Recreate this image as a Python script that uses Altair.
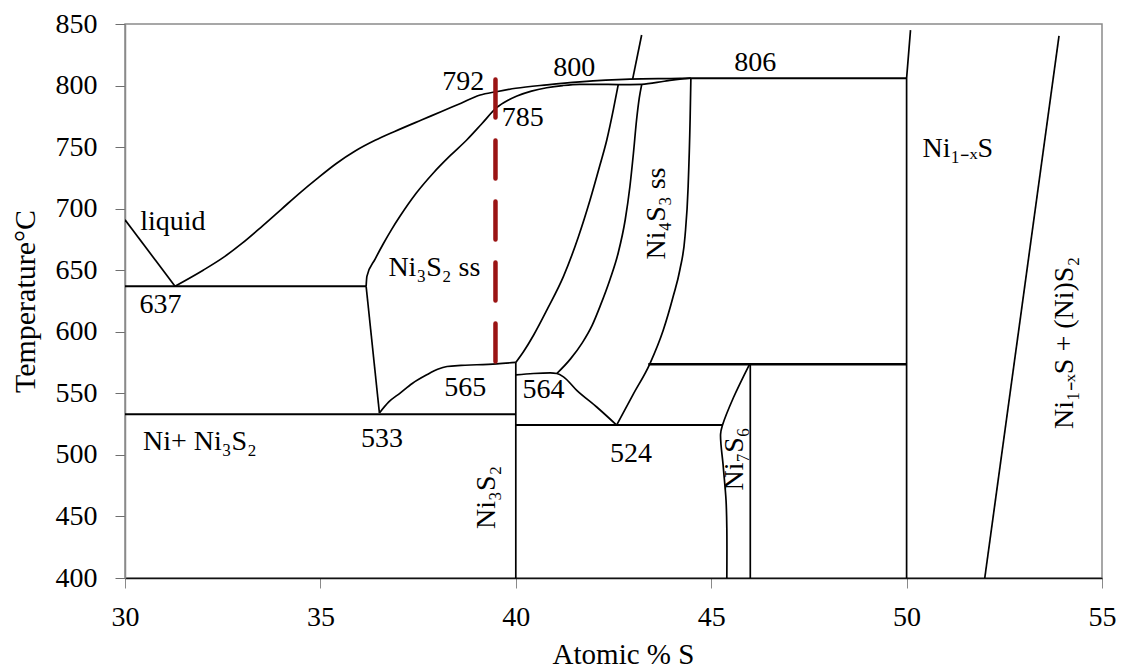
import altair as alt
import pandas as pd

FONT = "Liberation Serif"

# ---------------- phase-boundary lines (Atomic % S, Temperature °C) ----------------
liq_left_x = [30.0, 31.28]
liq_left_y = [691, 637]

liq_x = [31.28, 32.0, 32.5, 33.0, 33.5, 34.0, 34.5, 34.9, 35.4, 35.9, 36.4, 36.9, 37.6,
         38.1, 38.6, 39.09, 39.5, 40.0, 40.8, 41.64, 42.92, 44.2, 44.48]
liq_y = [637, 650, 660, 672, 685.5, 699.5, 713.5, 724, 736.5, 747, 755.5, 762.7, 772.2,
         778.9, 785.7, 792.3, 795, 797.8, 800.6, 803, 805.2, 805.8, 806]

sol_x = [36.17, 36.19, 36.4, 36.61, 36.82, 37.04, 37.45, 37.89, 38.32, 38.75, 39.13, 39.51,
         39.8, 40.03, 40.4, 40.79, 41.2, 41.64, 42.1, 42.62, 43.22, 43.8, 44.2, 44.48]
sol_y = [637, 645, 659, 671.5, 683, 694, 712.5, 729, 743, 756, 769, 782,
         788, 791.5, 795.5, 798.2, 800, 801, 801, 800.8, 801, 803.5, 805.3, 806]

ss_left_x = [36.17, 36.51]
ss_left_y = [637, 534]

c565_x = [36.51, 36.75, 37.04, 37.35, 37.72, 38.0, 38.24, 38.6, 39.0, 39.51, 40.0]
c565_y = [534, 543, 550.2, 558, 565, 569.5, 571.8, 572.7, 573.2, 574, 575.1]

lineA_x = [40.0, 40.2, 40.45, 40.8, 41.22, 41.6, 41.9, 42.15, 42.33, 42.5, 42.62]
lineA_y = [575.1, 584, 597, 618, 645, 677, 707, 735, 756, 781, 800.6]

lineB_x = [41.05, 41.4, 41.7, 41.95, 42.16, 42.41, 42.62, 42.8, 42.92, 43.01, 43.09, 43.16, 43.22]
lineB_y = [566.1, 578, 591, 605, 621, 642.5, 664, 691, 718, 745, 772, 790, 800.6]

c564_x = [40.0, 40.45, 40.88, 41.05, 41.22, 41.56, 42.07, 42.58]
c564_y = [565, 566.1, 566.6, 566.1, 563.4, 552.4, 538.9, 524.2]

lineC_x = [42.58, 43.0, 43.43, 43.77, 44.03, 44.2, 44.33, 44.41, 44.46, 44.48]
lineC_y = [524.2, 549, 574, 601, 629, 650.6, 677.6, 718, 772, 806]

ni3s2_x = [40.0, 40.0]
ni3s2_y = [400, 575.1]

h637_x = [30.0, 36.17]
h637_y = [637, 637]

h533_x = [30.0, 40.0]
h533_y = [533, 533]

h524_x = [40.0, 45.29]
h524_y = [524.2, 524.2]

ni7s6_left_x = [45.98, 45.57, 45.29, 45.24, 45.31, 45.38, 45.4, 45.4]
ni7s6_left_y = [573.6, 546.6, 524.2, 516.9, 489.9, 462.9, 440, 400]

ni7s6_right_x = [46.0, 46.0]
ni7s6_right_y = [400, 573.6]

h573_x = [43.39, 50.0]
h573_y = [573.6, 573.6]

h806_x = [44.48, 50.0]
h806_y = [806, 806]

v50_x = [50.0, 50.0, 50.1]
v50_y = [400, 806, 845]

slant_x = [52.0, 53.9]
slant_y = [400, 840.3]

top_x = [42.99, 43.22]
top_y = [805.2, 841.1]

red_x = [39.48, 39.48]
red_y = [805, 574.5]

# ---------------- annotation texts ----------------
h_text = ["liquid", "637", "792", "785", "800", "806", "Ni\u2081\u208B\u2093S", "Ni\u2083S\u2082 ss",
          "565", "564", "533", "524", "Ni+ Ni\u2083S\u2082"]
h_x = [30.39, 30.37, 38.12, 39.64, 40.96, 45.59, 50.41, 36.74, 38.17, 40.17, 36.04, 42.41, 30.46]
h_y = [682.3, 615.6, 796.5, 766.8, 807.9, 811.9, 741.7, 645.2, 548.0, 546.1, 506.2, 493.9, 504]

v_text = ["Ni\u2083S\u2082", "Ni\u2084S\u2083 ss", "Ni\u2087S\u2086", "Ni\u2081\u208B\u2093S + (Ni)S\u2082"]
v_x = [39.47, 43.82, 45.82, 54.26]
v_y = [439.9, 658.8, 471, 521]

curved = {
    "liq": (liq_x, liq_y),
    "sol": (sol_x, sol_y),
    "c565": (c565_x, c565_y),
    "lineA": (lineA_x, lineA_y),
    "lineB": (lineB_x, lineB_y),
    "c564": (c564_x, c564_y),
    "lineC": (lineC_x, lineC_y),
}
bent = {
    "ni7s6_left": (ni7s6_left_x, ni7s6_left_y),
}
straight = {
    "liq_left": (liq_left_x, liq_left_y),
    "ss_left": (ss_left_x, ss_left_y),
    "ni3s2": (ni3s2_x, ni3s2_y),
    "h637": (h637_x, h637_y),
    "h533": (h533_x, h533_y),
    "h524": (h524_x, h524_y),
    "ni7s6_right": (ni7s6_right_x, ni7s6_right_y),
    "h573": (h573_x, h573_y),
    "h806": (h806_x, h806_y),
    "v50": (v50_x, v50_y),
    "slant": (slant_x, slant_y),
    "top": (top_x, top_y),
}
thick = {"h573": 2.6, "h533": 2.0, "h637": 2.0, "h524": 2.0, "h806": 2.0}


def to_df(group):
    rows = []
    for name, (xs, ys) in group.items():
        for i, (xv, yv) in enumerate(zip(xs, ys)):
            rows.append({"seg": name, "x": xv, "y": yv, "o": i, "w": thick.get(name, 1.7)})
    return pd.DataFrame(rows)


red_df = pd.DataFrame({"x": red_x, "y": red_y, "o": list(range(len(red_x)))})
h_df = pd.DataFrame({"t": h_text, "x": h_x, "y": h_y})
v_df = pd.DataFrame({"t": v_text, "x": v_x, "y": v_y})

xscale = alt.Scale(domain=[30, 55], nice=False, zero=False)
yscale = alt.Scale(domain=[400, 850], nice=False, zero=False)

x_axis = alt.Axis(
    values=[30, 35, 40, 45, 50, 55], grid=False, tickSize=10, tickColor="#8a8a8a",
    domainColor="#111111", domainWidth=1.3, labelFont=FONT, labelFontSize=28,
    labelColor="black", labelPadding=15, labelFlush=False,
    title="Atomic % S", titleFont=FONT, titleFontSize=29, titleFontWeight="normal",
    titleColor="black", titleX=498, titleY=85, titleBaseline="alphabetic", titleAlign="center",
)
y_axis = alt.Axis(
    values=[400, 450, 500, 550, 600, 650, 700, 750, 800, 850], grid=False, tickSize=10,
    tickColor="#6e6e6e", domainColor="#8a8a8a", domainWidth=1.5, labelFont=FONT,
    labelFontSize=28, labelColor="black", labelPadding=18, labelFlush=False,
    title="Temperature°C", titleFont=FONT, titleFontSize=30, titleFontWeight="normal",
    titleColor="black", titleX=-85, titleY=277, titleAngle=270, titleBaseline="bottom",
    titleAlign="center",
)


def line_layer(group, interp, with_axes=False):
    if with_axes:
        xenc = alt.X("x:Q", scale=xscale, axis=x_axis)
        yenc = alt.Y("y:Q", scale=yscale, axis=y_axis)
    else:
        xenc = alt.X("x:Q", scale=xscale)
        yenc = alt.Y("y:Q", scale=yscale)
    return alt.Chart(to_df(group)).mark_line(color="black", clip=True, interpolate=interp).encode(
        x=xenc, y=yenc, detail="seg:N", order="o:Q",
        strokeWidth=alt.StrokeWidth("w:Q", scale=None, legend=None),
    )


lines_straight = line_layer(straight, "linear", with_axes=True)
lines_curved = line_layer(curved, "monotone")
lines_bent = line_layer(bent, "catmull-rom")

red = alt.Chart(red_df).mark_line(
    color="#9a1414", strokeWidth=4.5, strokeDash=[38, 23], strokeCap="round"
).encode(x=alt.X("x:Q", scale=xscale), y=alt.Y("y:Q", scale=yscale), order="o:Q")

htext = alt.Chart(h_df).mark_text(
    font=FONT, fontSize=28, align="left", baseline="alphabetic", color="black"
).encode(x=alt.X("x:Q", scale=xscale), y=alt.Y("y:Q", scale=yscale), text="t:N")

vtext = alt.Chart(v_df).mark_text(
    font=FONT, fontSize=28, align="left", baseline="alphabetic", angle=270, color="black"
).encode(x=alt.X("x:Q", scale=xscale), y=alt.Y("y:Q", scale=yscale), text="t:N")

chart = alt.layer(lines_straight, lines_curved, lines_bent, red, htext, vtext).properties(
    width=977, height=554,
    autosize=alt.AutoSizeParams(type="none"),
    padding={"left": 125, "top": 24, "right": 19, "bottom": 90},
    background="white",
).configure_view(stroke="#8a8a8a", strokeWidth=1.5)

chart.save("out.html", embed_options={"renderer": "svg", "actions": False})
